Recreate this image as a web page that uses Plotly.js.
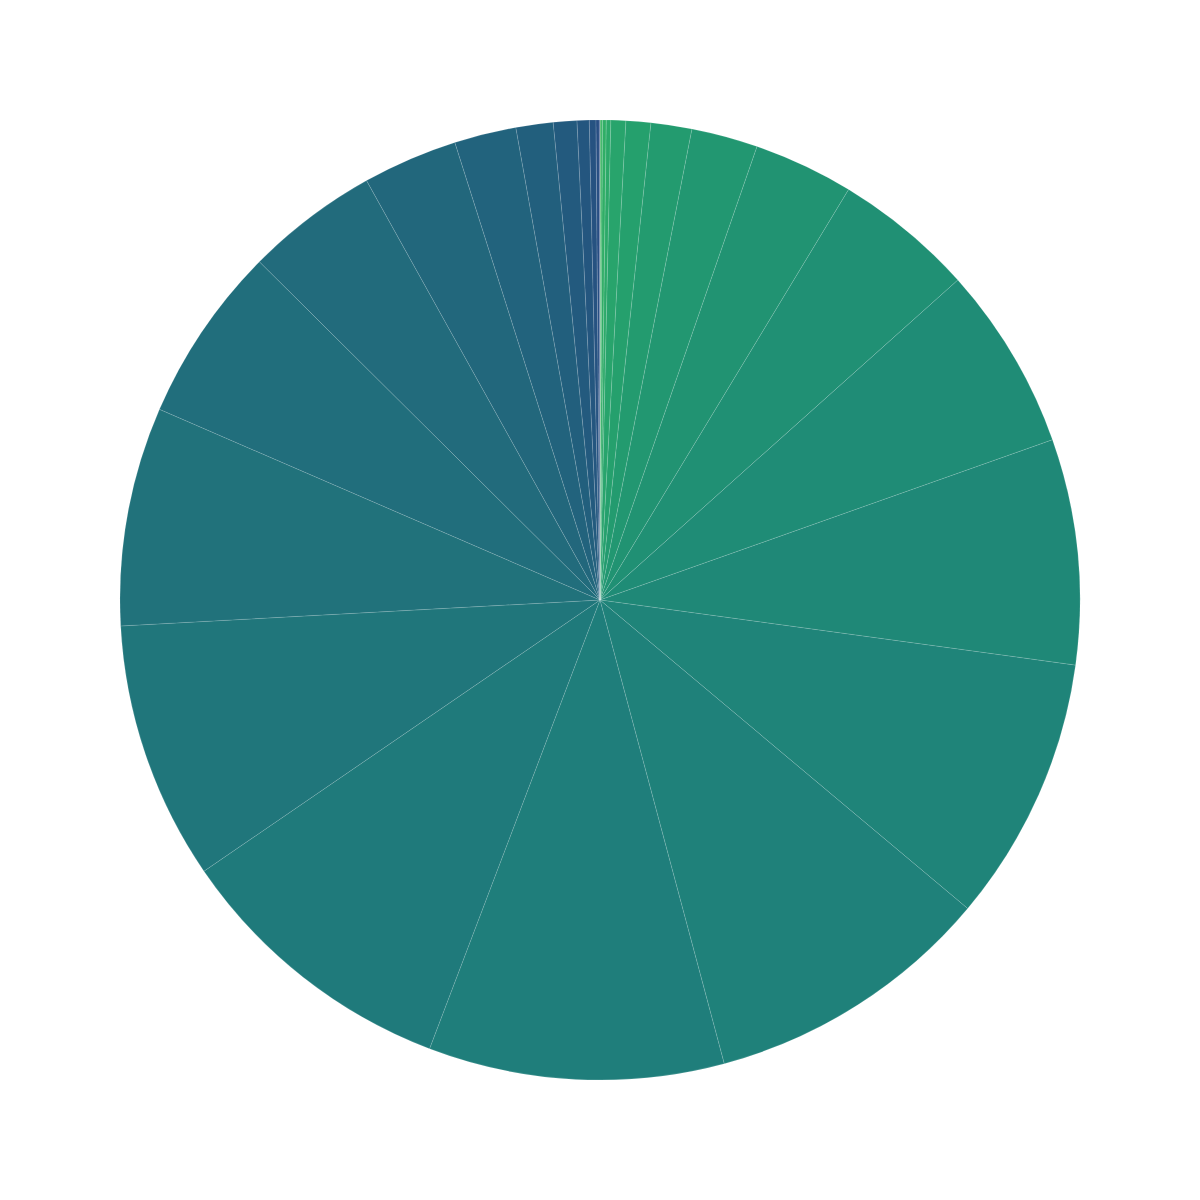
<!DOCTYPE html>
<html>
<head>
<meta charset="utf-8">
<script src="https://cdn.plot.ly/plotly-3.0.1.min.js"></script>
<style>html,body{margin:0;padding:0;background:#fff;}#chart{width:1200px;height:1200px;}</style>
</head>
<body>
<div id="chart"></div>
<script>
const labels = ["S1","S2","S3","S4","S5","S6","S7","S8","S9","S10","S11","S12","S13","S14","S15","S16","S17","S18","S19","S20","S21","S22","S23","S24","S25","S26","S27","S28"];
const values = [0.12,0.18,0.45,0.55,1.8,3.0,4.95,8.05,12.1,17,22.3,27.3,32.2,35,35.8,34.8,31.3,26.5,21.4,16.1,11.5,7.5,4.5,2.85,1.47,0.8,0.4,0.08];
const colors = ["#3fb65f","#36b263","#30ae66","#2ca969","#28a46c","#25a06d","#239b6f","#229771","#219372","#209074","#1f8c76","#1f8877","#1f8479","#1f817a","#1f7e7b","#1f7a7b","#20767b","#21727b","#216e7c","#226b7c","#22677c","#22637d","#225f7d","#235a7e","#24567f","#265281","#284e83","#2b4986"];

Plotly.newPlot('chart', [{
  type: 'pie',
  labels: labels,
  values: values,
  sort: false,
  direction: 'clockwise',
  rotation: 0,
  textinfo: 'none',
  marker: {colors: colors, line: {color: 'rgba(255,255,255,0.25)', width: 0.5}}
}], {
  width: 1200, height: 1200,
  showlegend: false,
  margin: {l: 120, r: 120, t: 120, b: 120},
  paper_bgcolor: '#ffffff'
}, {displayModeBar: false, staticPlot: true});
</script>
</body>
</html>
